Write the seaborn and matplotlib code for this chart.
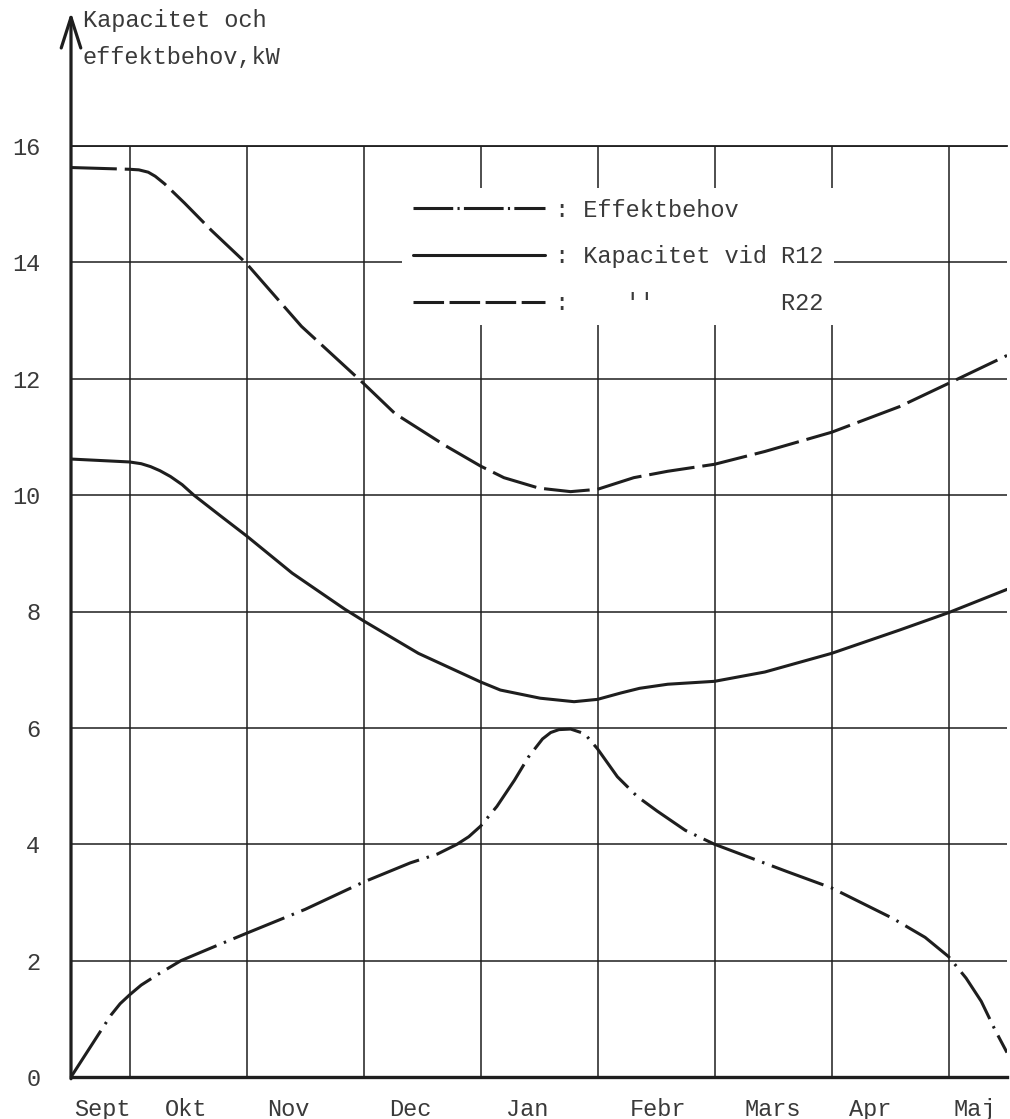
import matplotlib
matplotlib.use("Agg")
import matplotlib.pyplot as plt
from matplotlib.lines import Line2D
import seaborn as sns
import pandas as pd

# ---------------- data ----------------
months = ["Sept", "Okt", "Nov", "Dec", "Jan", "Febr", "Mars", "Apr", "Maj"]
month_label_pos = [0.27, 0.98, 1.86, 2.90, 3.90, 5.02, 6.00, 6.83, 7.72]
month_grid_pos = [0.5, 1.5, 2.5, 3.5, 4.5, 5.5, 6.5, 7.5]
y_ticks = [0, 2, 4, 6, 8, 10, 12, 14, 16]

effekt_x = [0.00, 0.17, 0.34, 0.42, 0.50, 0.60, 0.74, 0.94, 1.20, 1.50, 2.00,
            2.50, 2.90, 3.13, 3.30, 3.40, 3.50, 3.64, 3.79, 3.91, 4.03, 4.10,
            4.17, 4.27, 4.39, 4.50, 4.67, 4.84, 5.01, 5.25, 5.50, 6.12, 6.50,
            7.02, 7.30, 7.50, 7.65, 7.78, 7.90, 8.00]
effekt_y = [0.00, 0.53, 1.06, 1.26, 1.41, 1.58, 1.76, 2.00, 2.22, 2.47, 2.88,
            3.35, 3.68, 3.83, 4.00, 4.13, 4.31, 4.65, 5.10, 5.50, 5.81, 5.92,
            5.97, 5.98, 5.90, 5.64, 5.16, 4.82, 4.57, 4.24, 4.00, 3.53, 3.25,
            2.73, 2.40, 2.07, 1.70, 1.30, 0.80, 0.42]

r12_x = [0.00, 0.50, 0.60, 0.68, 0.76, 0.85, 0.95, 1.05, 1.28, 1.50, 1.89,
         2.34, 2.50, 2.97, 3.50, 3.67, 4.01, 4.30, 4.50, 4.70, 4.86, 5.10,
         5.50, 5.93, 6.50, 7.08, 7.50, 8.00]
r12_y = [10.62, 10.57, 10.54, 10.49, 10.42, 10.32, 10.18, 10.00, 9.64, 9.30, 8.66,
         8.04, 7.84, 7.28, 6.79, 6.65, 6.51, 6.45, 6.49, 6.60, 6.68, 6.75,
         6.80, 6.96, 7.28, 7.68, 7.98, 8.38]

r22_x = [0.00, 0.50, 0.58, 0.66, 0.72, 0.80, 0.97, 1.20, 1.50, 1.97, 2.43,
         2.50, 2.77, 3.20, 3.50, 3.70, 4.00, 4.27, 4.50, 4.81, 5.10, 5.50,
         5.93, 6.50, 7.08, 7.50, 8.00]
r22_y = [15.63, 15.60, 15.59, 15.55, 15.48, 15.35, 15.02, 14.55, 13.98, 12.90, 12.05,
         11.92, 11.40, 10.85, 10.50, 10.30, 10.12, 10.06, 10.10, 10.30, 10.41, 10.53,
         10.75, 11.08, 11.52, 11.92, 12.40]

series_names = ["Effektbehov", "Kapacitet vid R12", "R22"]
legend_labels = [": Effektbehov", ": Kapacitet vid R12", ":    ''         R22"]

df = pd.concat([
    pd.DataFrame({"x": effekt_x, "y": effekt_y, "serie": series_names[0]}),
    pd.DataFrame({"x": r12_x, "y": r12_y, "serie": series_names[1]}),
    pd.DataFrame({"x": r22_x, "y": r22_y, "serie": series_names[2]}),
], ignore_index=True)

# ---------------- style ----------------
sns.set_theme(style="white")
plt.rcParams["font.family"] = ["Liberation Mono", "DejaVu Sans Mono"]
INK = "#1e1e1e"
TXT = "#3a3a3a"
FS = 17

fig = plt.figure(figsize=(10.10, 11.19), dpi=100)
fig.patch.set_facecolor("white")
ax = fig.add_axes([71 / 1010, 42 / 1119, 936 / 1010, 931 / 1119])
ax.set_facecolor("white")

line_dashes = {
    series_names[0]: (18, 2.6, 0.8, 2.6),
    series_names[1]: "",
    series_names[2]: (15, 2.6),
}
palette = {n: INK for n in series_names}

sns.lineplot(data=df, x="x", y="y", hue="serie", style="serie",
             palette=palette, dashes=line_dashes, linewidth=2.2,
             estimator=None, sort=False, legend=False, ax=ax, zorder=3)
for ln in ax.lines:
    ln.set_solid_joinstyle("round")
    ln.set_dash_joinstyle("round")

ax.set_xlim(0, 8.0)
ax.set_ylim(0, 16)

# grid
ax.set_xticks(month_grid_pos, minor=True)
ax.set_xticks(month_label_pos)
ax.set_xticklabels(months, fontsize=FS, color=TXT)
ax.set_yticks(y_ticks)
ax.set_yticklabels([str(v) for v in y_ticks], fontsize=FS, color=TXT)
ax.xaxis.grid(True, which="minor", color=INK, linewidth=1.1)
ax.xaxis.grid(False, which="major")
ax.yaxis.grid(True, which="major", color=INK, linewidth=1.1)
ax.set_axisbelow(True)
ax.tick_params(axis="x", which="both", length=0, pad=15)
ax.tick_params(axis="y", which="both", length=0, pad=22)
ax.set_xlabel("")
ax.set_ylabel("")

for side in ["right", "left"]:
    ax.spines[side].set_visible(False)
ax.spines["bottom"].set_color(INK)
ax.spines["bottom"].set_linewidth(2.4)
ax.spines["top"].set_color(INK)
ax.spines["top"].set_linewidth(1.3)

# y axis with arrow
ax.annotate("", xy=(0, 18.3), xytext=(0, -0.03), xycoords="data",
            arrowprops=dict(arrowstyle="->,head_length=1.0,head_width=0.32",
                            lw=2.3, color=INK, mutation_scale=22,
                            shrinkA=0, shrinkB=0),
            annotation_clip=False, zorder=4)

# axis title
fig.text(83 / 1010, 1 - 20 / 1119, "Kapacitet och", fontsize=FS, color=TXT,
         ha="left", va="center")
fig.text(83 / 1010, 1 - 58 / 1119, "effektbehov,kW", fontsize=FS, color=TXT,
         ha="left", va="center")

# legend
handles = [
    Line2D([], [], color=INK, lw=2.2, dashes=(13, 1.4, 0.7, 1.4)),
    Line2D([], [], color=INK, lw=2.2),
    Line2D([], [], color=INK, lw=2.2, dashes=(10, 1.8)),
]
leg = ax.legend(handles, legend_labels, loc="upper left",
                bbox_to_anchor=(402 / 1010, 1 - 188 / 1119),
                bbox_transform=fig.transFigure, borderaxespad=0,
                frameon=True, facecolor="white", edgecolor="none",
                framealpha=1.0, fancybox=False, fontsize=FS,
                handlelength=5.6, handletextpad=0.45, borderpad=0.45,
                labelspacing=1.0)
for t in leg.get_texts():
    t.set_color(TXT)
leg.set_zorder(5)

fig.savefig("out.png", dpi=100, facecolor="white")
